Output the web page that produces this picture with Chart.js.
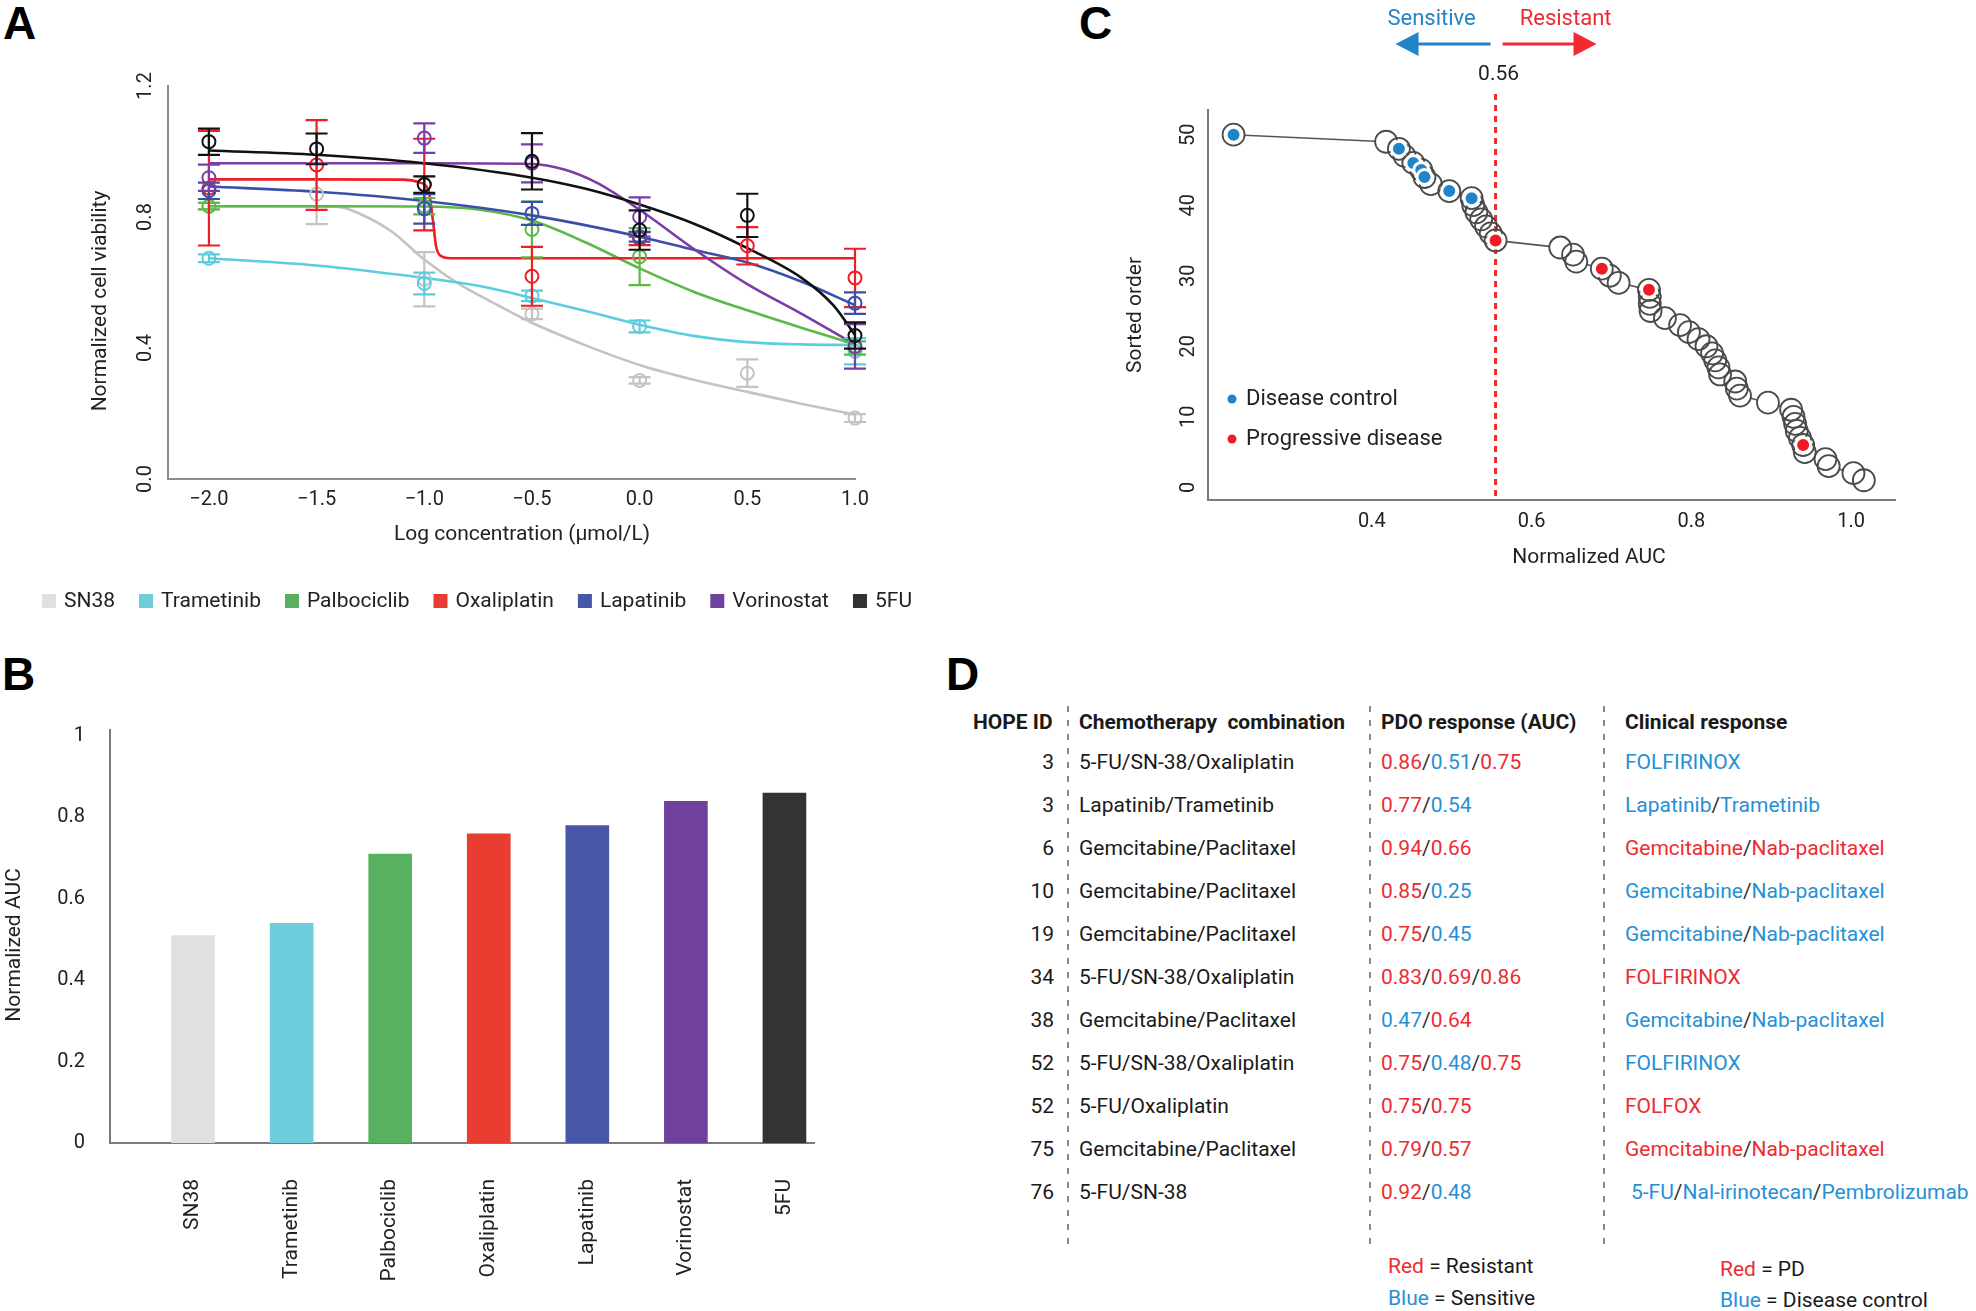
<!DOCTYPE html>
<html><head><meta charset="utf-8">
<script src="https://cdn.jsdelivr.net/npm/chart.js@4.4.1/dist/chart.umd.min.js"></script>
<style>
html,body{margin:0;padding:0;background:#fff;}
body{width:1976px;height:1311px;position:relative;overflow:hidden;font-family:Roboto,"Liberation Sans",Arial,sans-serif;color:#1a1a1a;}
canvas{position:absolute;}
.panel{position:absolute;font:bold 46px "Liberation Sans",Arial,sans-serif;line-height:46px;color:#000;}
.t{position:absolute;font-size:21px;line-height:26px;white-space:pre;color:#1a1a1a;}
.hd{font-weight:bold;}
.r{color:#ee2b32}.b{color:#2690d6}.sl{color:#333}
.dv{position:absolute;width:2px;background:repeating-linear-gradient(to bottom,#8a8a8a 0 6px,transparent 6px 14px);}
</style></head><body>
<div class="panel" style="left:3px;top:0">A</div>
<div class="panel" style="left:2px;top:651px">B</div>
<div class="panel" style="left:1079px;top:0">C</div>
<div class="panel" style="left:946px;top:651px">D</div>
<canvas id="cA" width="940" height="640" style="left:0;top:0"></canvas>
<canvas id="cB" width="940" height="661" style="left:0;top:650px"></canvas>
<canvas id="cC" width="876" height="600" style="left:1100px;top:0"></canvas>
<div id="tableD"></div>
<script>
// ================= Panel A data =================
const logConc = [-2, -1.5, -1, -0.5, 0, 0.5, 1];
const logConcTickLabels = ['\u22122.0','\u22121.5','\u22121.0','\u22120.5','0.0','0.5','1.0'];
const viabilityTicks = [0, 0.4, 0.8, 1.2];
const viabilityTickLabels = ['0.0','0.4','0.8','1.2'];
const drugs = ['SN38','Trametinib','Palbociclib','Oxaliplatin','Lapatinib','Vorinostat','5FU'];

// measured means and error (half-range) at each log concentration
const sn38Mean        = [0.833, 0.870, 0.610, 0.504, 0.301, 0.323, 0.186];
const sn38Err         = [0.010, 0.092, 0.083, 0.016, 0.010, 0.042, 0.012];
const trametinibMean  = [0.674, null, 0.597, 0.559, 0.466, null, 0.390];
const trametinibErr   = [0.012, 0, 0.033, 0.016, 0.018, 0, 0.040];
const palbociclibMean = [0.833, null, 0.833, 0.762, 0.679, null, 0.400];
const palbociclibErr  = [0.010, 0, 0.025, 0.085, 0.087, 0, 0.020];
const oxaliplatinMean = [0.888, 0.959, 0.899, 0.619, 0.734, 0.712, 0.614];
const oxaliplatinErr  = [0.175, 0.137, 0.140, 0.090, 0.020, 0.057, 0.089];
const lapatinibMean   = [0.880, null, 0.825, 0.811, 0.740, null, 0.537];
const lapatinibErr    = [0.025, 0, 0.045, 0.035, 0.015, 0, 0.033];
const vorinostatMean  = [0.920, null, 1.041, 0.964, 0.800, null, 0.405];
const vorinostatErr   = [0.040, 0, 0.045, 0.058, 0.060, 0, 0.068];
const fiveFUMean      = [1.030, 1.008, 0.899, 0.970, 0.760, 0.805, 0.438];
const fiveFUErr       = [0.040, 0.047, 0.025, 0.086, 0.060, 0.066, 0.040];

// fitted curves
const sn38CurveX = [-2, -1.7, -1.4, -1.3, -1.15, -1, -0.85, -0.7, -0.5, -0.25, 0, 0.25, 0.5, 0.75, 1];
const sn38CurveY = [0.833, 0.833, 0.831, 0.81, 0.755, 0.67, 0.60, 0.545, 0.477, 0.408, 0.348, 0.303, 0.266, 0.23, 0.197];
const trametinibCurveX = [-2, -1.5, -1, -0.75, -0.5, -0.25, 0, 0.25, 0.5, 0.75, 1];
const trametinibCurveY = [0.674, 0.652, 0.614, 0.59, 0.553, 0.513, 0.471, 0.437, 0.418, 0.411, 0.409];
const palbociclibCurveX = [-2, -1.5, -1, -0.75, -0.5, -0.25, 0, 0.25, 0.5, 0.75, 1];
const palbociclibCurveY = [0.833, 0.833, 0.832, 0.823, 0.789, 0.722, 0.643, 0.572, 0.515, 0.462, 0.411];
const oxaliplatinCurveX = [-2, -1.5, -1.1, -1.02, -0.98, -0.96, -0.945, -0.92, -0.88, 0, 1];
const oxaliplatinCurveY = [0.915, 0.915, 0.914, 0.905, 0.88, 0.79, 0.71, 0.68, 0.674, 0.674, 0.674];
const lapatinibCurveX = [-2, -1.5, -1, -0.5, 0, 0.25, 0.5, 0.75, 1];
const lapatinibCurveY = [0.893, 0.877, 0.849, 0.805, 0.74, 0.70, 0.661, 0.603, 0.531];
const vorinostatCurveX = [-2, -1.5, -1, -0.5, -0.35, -0.2, 0, 0.25, 0.5, 0.75, 1];
const vorinostatCurveY = [0.964, 0.964, 0.964, 0.962, 0.945, 0.905, 0.822, 0.703, 0.595, 0.505, 0.411];
const fiveFUCurveX = [-2, -1.5, -1, -0.5, -0.25, 0, 0.25, 0.5, 0.75, 0.9, 1];
const fiveFUCurveY = [1.003, 0.99, 0.964, 0.92, 0.886, 0.838, 0.78, 0.705, 0.615, 0.53, 0.44];

// ================= Panel B data =================
const aucValues = [0.51, 0.54, 0.71, 0.76, 0.78, 0.84, 0.86];
const aucTicks = [0, 0.2, 0.4, 0.6, 0.8, 1];
const aucTickLabels = ['0', '0.2', '0.4', '0.6', '0.8', '1'];

// ================= Panel C data =================
const sortedOrder = [50,49,48,47,46,45,44,43,42,41,40,39,38,37,36,35,34,33,32,31,30,29,28,27,26,25,24,23,22,21,20,19,18,17,16,15,14,13,12,11,10,9,8,7,6,5,4,3,2,1];
const normalizedAUC = [0.227,0.418,0.434,0.441,0.452,0.462,0.466,0.474,0.497,0.525,
                       0.527,0.531,0.537,0.543,0.549,0.555,0.636,0.652,0.656,0.688,
                       0.698,0.709,0.747,0.748,0.748,0.749,0.767,0.786,0.797,0.809,
                       0.819,0.826,0.830,0.834,0.836,0.855,0.857,0.861,0.896,0.925,
                       0.928,0.930,0.932,0.936,0.940,0.942,0.968,0.972,1.003,1.016];
const clinicalOutcomeC = ['DC','','DC','','DC','DC','DC','','DC','DC',
                          '','','','','','PD','','','','PD',
                          '','','PD','','','','','','','',
                          '','','','','','','','','','',
                          '','','','','PD','','','','',''];
const aucThreshold = 0.555;
const aucThresholdLabel = '0.56';
const aucAxisTicks = [0.4, 0.6, 0.8, 1.0];
const aucAxisTickLabels = ['0.4', '0.6', '0.8', '1.0'];
const orderTicks = [0, 10, 20, 30, 40, 50];
const orderTickLabels = ['0', '10', '20', '30', '40', '50'];

// ================= Panel D data =================
const hopeIds = ['3','3','6','10','19','34','38','52','52','75','76'];
const chemoCombos = ['5-FU/SN-38/Oxaliplatin','Lapatinib/Trametinib','Gemcitabine/Paclitaxel','Gemcitabine/Paclitaxel','Gemcitabine/Paclitaxel','5-FU/SN-38/Oxaliplatin','Gemcitabine/Paclitaxel','5-FU/SN-38/Oxaliplatin','5-FU/Oxaliplatin','Gemcitabine/Paclitaxel','5-FU/SN-38'];
const pdoAUCs = [[0.86,0.51,0.75],[0.77,0.54],[0.94,0.66],[0.85,0.25],[0.75,0.45],[0.83,0.69,0.86],[0.47,0.64],[0.75,0.48,0.75],[0.75,0.75],[0.79,0.57],[0.92,0.48]];
const clinicalRegimens = ['FOLFIRINOX','Lapatinib/Trametinib','Gemcitabine/Nab-paclitaxel','Gemcitabine/Nab-paclitaxel','Gemcitabine/Nab-paclitaxel','FOLFIRINOX','Gemcitabine/Nab-paclitaxel','FOLFIRINOX','FOLFOX','Gemcitabine/Nab-paclitaxel','5-FU/Nal-irinotecan/Pembrolizumab'];
const clinicalOutcomeD = ['DC','DC','PD','DC','DC','PD','DC','DC','PD','PD','DC'];

// ================= styles =================
const FONT = 'Roboto, "Liberation Sans", Arial, sans-serif';
const curveColors = ['#c3c3c3','#5ccde0','#5cb848','#ee1d26','#3a4faa','#7a3ca5','#111111'];
const barColors = ['#e0e0e0','#6ecddb','#57b15e','#e83d30','#4756a6','#6f419a','#333333'];
const RED = '#ee2b32', BLUE = '#1f84c8';

function txt(ctx, s, x, y, font, color, rot, align) {
  ctx.save();
  ctx.font = font; ctx.fillStyle = color || '#222';
  ctx.textAlign = align || 'center'; ctx.textBaseline = 'middle';
  ctx.translate(x, y); if (rot) ctx.rotate(rot);
  ctx.fillText(s, 0, 0); ctx.restore();
}

// ================= Chart A =================
const meansA = [sn38Mean, trametinibMean, palbociclibMean, oxaliplatinMean, lapatinibMean, vorinostatMean, fiveFUMean];
const errsA = [sn38Err, trametinibErr, palbociclibErr, oxaliplatinErr, lapatinibErr, vorinostatErr, fiveFUErr];
const curveXA = [sn38CurveX, trametinibCurveX, palbociclibCurveX, oxaliplatinCurveX, lapatinibCurveX, vorinostatCurveX, fiveFUCurveX];
const curveYA = [sn38CurveY, trametinibCurveY, palbociclibCurveY, oxaliplatinCurveY, lapatinibCurveY, vorinostatCurveY, fiveFUCurveY];

const dsA = [];
drugs.forEach((d, k) => {
  dsA.push({
    label: d + ' fit', type: 'line',
    data: curveXA[k].map((x, i) => ({x: x, y: curveYA[k][i]})),
    borderColor: curveColors[k], borderWidth: 2.6, pointRadius: 0,
    cubicInterpolationMode: 'monotone', fill: false, clip: false, order: 20 + (6 - k)
  });
  dsA.push({
    label: d, type: 'line', showLine: false,
    data: logConc.map((x, i) => ({x: x, y: meansA[k][i]})),
    errors: errsA[k],
    borderColor: curveColors[k], pointBorderColor: curveColors[k],
    pointBackgroundColor: 'rgba(255,255,255,0)', pointRadius: 6.5, pointBorderWidth: 2,
    clip: false, order: 6 - k
  });
});

const aPlugin = {
  id: 'aExtras',
  afterDatasetDraw(chart, args) {
    const ds = chart.data.datasets[args.index];
    if (!ds.errors) return;
    const xs = chart.scales.x, ys = chart.scales.y, ctx = chart.ctx;
    ctx.save(); ctx.strokeStyle = ds.borderColor; ctx.lineWidth = 2.2;
    ds.data.forEach((p, j) => {
      if (p.y == null) return;
      const e = ds.errors[j];
      const x = xs.getPixelForValue(p.x);
      const yt = ys.getPixelForValue(p.y + e), yb = ys.getPixelForValue(p.y - e);
      ctx.beginPath();
      ctx.moveTo(x, yt); ctx.lineTo(x, yb);
      ctx.moveTo(x - 11, yt); ctx.lineTo(x + 11, yt);
      ctx.moveTo(x - 11, yb); ctx.lineTo(x + 11, yb);
      ctx.stroke();
    });
    ctx.restore();
  },
  afterDraw(chart) {
    const ctx = chart.ctx, ys = chart.scales.y;
    viabilityTicks.forEach((v, i) => txt(ctx, viabilityTickLabels[i], 146, ys.getPixelForValue(v), '20px ' + FONT, '#222', -Math.PI / 2));
    txt(ctx, 'Normalized cell viability', 101, 301, '21px ' + FONT, '#222', -Math.PI / 2);
    txt(ctx, 'Log concentration (\u00b5mol/L)', 522, 535, '21px ' + FONT, '#222');
    // legend
    ctx.save();
    ctx.font = '21px ' + FONT;
    const w = drugs.map(d => ctx.measureText(d).width);
    const gap = 24;
    const total = w.reduce((a, b) => a + b, 0) + drugs.length * 22 + (drugs.length - 1) * gap;
    let x = 477 - total / 2; const y = 601;
    drugs.forEach((d, i) => {
      ctx.fillStyle = barColors[i]; ctx.fillRect(x, y - 7, 14, 14);
      x += 22;
      ctx.fillStyle = '#222'; ctx.textAlign = 'left'; ctx.textBaseline = 'middle';
      ctx.fillText(d, x, y + 1);
      x += w[i] + gap;
    });
    ctx.restore();
  }
};

new Chart(document.getElementById('cA'), {
  type: 'line',
  data: {datasets: dsA},
  options: {
    responsive: false, animation: false, devicePixelRatio: 1,
    layout: {padding: {left: 0, right: 85, top: 86, bottom: 101}},
    plugins: {legend: {display: false}, tooltip: {enabled: false}},
    scales: {
      x: {type: 'linear', min: -2.19, max: 1.0,
          grid: {display: false, drawTicks: false}, border: {color: '#8c8c8c', width: 2},
          afterBuildTicks: s => { s.ticks = logConc.map(v => ({value: v})); },
          afterFit: s => { s.height = 60; },
          ticks: {padding: 9, color: '#222', font: {family: FONT, size: 20}, maxRotation: 0, autoSkip: false,
                  callback: v => logConcTickLabels[logConc.indexOf(v)]}},
      y: {type: 'linear', min: 0, max: 1.2,
          grid: {display: false, drawTicks: false}, border: {color: '#8c8c8c', width: 2},
          ticks: {display: false}, afterFit: s => { s.width = 168; }}
    }
  },
  plugins: [aPlugin]
});

// ================= Chart B =================
const bPlugin = {
  id: 'bExtras',
  afterDraw(chart) {
    txt(chart.ctx, 'Normalized AUC', 15, 295, '21px ' + FONT, '#222', -Math.PI / 2);
  }
};
new Chart(document.getElementById('cB'), {
  type: 'bar',
  data: {datasets: [{
    label: 'Normalized AUC',
    data: drugs.map((d, i) => ({x: i, y: aucValues[i]})),
    backgroundColor: barColors, borderWidth: 0, barThickness: 43
  }]},
  options: {
    responsive: false, animation: false, devicePixelRatio: 1,
    layout: {padding: {left: 0, right: 126, top: 80, bottom: 0}},
    plugins: {legend: {display: false}, tooltip: {enabled: false}},
    scales: {
      x: {type: 'linear', min: -0.843, max: 6.30, offset: false,
          grid: {display: false, drawTicks: false, offset: false}, border: {color: '#7a7a7a', width: 2},
          afterBuildTicks: s => { s.ticks = drugs.map((d, i) => ({value: i})); },
          afterFit: s => { s.height = 168; },
          ticks: {autoSkip: false, minRotation: 90, maxRotation: 90, padding: 36, color: '#222',
                  font: {family: FONT, size: 21}, callback: v => drugs[v]}},
      y: {type: 'linear', min: 0, max: 1.015,
          grid: {display: false, drawTicks: false}, border: {color: '#7a7a7a', width: 2},
          afterBuildTicks: s => { s.ticks = aucTicks.map(v => ({value: v})); },
          afterFit: s => { s.width = 110; },
          ticks: {padding: 25, color: '#222', font: {family: FONT, size: 20},
                  callback: v => aucTickLabels[aucTicks.indexOf(v)]}}
    }
  },
  plugins: [bPlugin]
});

// ================= Chart C =================
const ptsC = normalizedAUC.map((x, i) => ({x: x, y: sortedOrder[i]}));
const cPlugin = {
  id: 'cExtras',
  beforeDatasetsDraw(chart) {
    const ctx = chart.ctx, xs = chart.scales.x;
    const tx = xs.getPixelForValue(aucThreshold);
    ctx.save();
    ctx.strokeStyle = '#ee2a2a'; ctx.lineWidth = 3; ctx.setLineDash([6, 5]);
    ctx.beginPath(); ctx.moveTo(tx, 94); ctx.lineTo(tx, chart.chartArea.bottom); ctx.stroke();
    ctx.restore();
    // connecting line with gaps around circles
    const meta = chart.getDatasetMeta(2);
    const r = 11;
    ctx.save(); ctx.strokeStyle = '#555'; ctx.lineWidth = 1.6;
    for (let i = 1; i < meta.data.length; i++) {
      const a = meta.data[i - 1], b = meta.data[i];
      const dx = b.x - a.x, dy = b.y - a.y, L = Math.hypot(dx, dy);
      if (L <= 2 * r) continue;
      const ux = dx / L, uy = dy / L;
      ctx.beginPath(); ctx.moveTo(a.x + ux * r, a.y + uy * r); ctx.lineTo(b.x - ux * r, b.y - uy * r); ctx.stroke();
    }
    ctx.restore();
  },
  afterDraw(chart) {
    const ctx = chart.ctx, xs = chart.scales.x, ys = chart.scales.y;
    const tx = xs.getPixelForValue(aucThreshold);
    orderTicks.forEach((v, i) => txt(ctx, orderTickLabels[i], 89, ys.getPixelForValue(v), '20px ' + FONT, '#222', -Math.PI / 2));
    txt(ctx, 'Sorted order', 36, 315, '21px ' + FONT, '#222', -Math.PI / 2);
    txt(ctx, 'Normalized AUC', 489, 558, '21px ' + FONT, '#222');
    txt(ctx, aucThresholdLabel, tx + 3, 75, '21px ' + FONT, '#222');
    txt(ctx, 'Sensitive', tx - 64, 19, '22px ' + FONT, BLUE);
    txt(ctx, 'Resistant', tx + 70, 19, '22px ' + FONT, RED);
    const ay = 44;
    function arrow(x0, x1, col) {
      const dir = Math.sign(x1 - x0);
      ctx.save(); ctx.strokeStyle = col; ctx.fillStyle = col; ctx.lineWidth = 3;
      ctx.beginPath(); ctx.moveTo(x0, ay); ctx.lineTo(x1 - dir * 20, ay); ctx.stroke();
      ctx.beginPath(); ctx.moveTo(x1, ay); ctx.lineTo(x1 - dir * 23, ay - 12); ctx.lineTo(x1 - dir * 23, ay + 12); ctx.closePath(); ctx.fill();
      ctx.restore();
    }
    arrow(tx - 5, tx - 100, BLUE);
    arrow(tx + 7, tx + 101, RED);
    ctx.save();
    ctx.fillStyle = BLUE; ctx.beginPath(); ctx.arc(132, 399, 4.5, 0, Math.PI * 2); ctx.fill();
    ctx.fillStyle = '#ee1c24'; ctx.beginPath(); ctx.arc(132, 439, 4.5, 0, Math.PI * 2); ctx.fill();
    ctx.restore();
    txt(ctx, 'Disease control', 146, 399, '22px ' + FONT, '#222', 0, 'left');
    txt(ctx, 'Progressive disease', 146, 439, '22px ' + FONT, '#222', 0, 'left');
  }
};
new Chart(document.getElementById('cC'), {
  type: 'scatter',
  data: {datasets: [
    {label: 'Disease control', data: ptsC.filter((p, i) => clinicalOutcomeC[i] === 'DC'),
     pointRadius: 7.5, pointBorderWidth: 3, pointBorderColor: '#fff', pointBackgroundColor: BLUE, clip: false, order: 0},
    {label: 'Progressive disease', data: ptsC.filter((p, i) => clinicalOutcomeC[i] === 'PD'),
     pointRadius: 7.5, pointBorderWidth: 3, pointBorderColor: '#fff', pointBackgroundColor: '#ee1c24', clip: false, order: 1},
    {label: 'All PDOs', data: ptsC, pointRadius: 11, pointBorderWidth: 1.8,
     pointBorderColor: '#4a4a4a', pointBackgroundColor: 'rgba(255,255,255,0)', clip: false, order: 2}
  ]},
  options: {
    responsive: false, animation: false, devicePixelRatio: 1,
    layout: {padding: {left: 0, right: 81, top: 110, bottom: 40}},
    plugins: {legend: {display: false}, tooltip: {enabled: false}},
    scales: {
      x: {type: 'linear', min: 0.195, max: 1.055,
          grid: {display: false, drawTicks: false}, border: {color: '#7a7a7a', width: 2},
          afterBuildTicks: s => { s.ticks = aucAxisTicks.map(v => ({value: v})); },
          afterFit: s => { s.height = 60; },
          ticks: {padding: 10, color: '#222', font: {family: FONT, size: 20}, maxRotation: 0, autoSkip: false,
                  callback: v => aucAxisTickLabels[aucAxisTicks.indexOf(v)]}},
      y: {type: 'linear', min: -1.8, max: 53.5,
          grid: {display: false, drawTicks: false}, border: {color: '#7a7a7a', width: 2},
          ticks: {display: false}, afterFit: s => { s.width = 108; }}
    }
  },
  plugins: [cPlugin]
});

// ================= Table D =================
(function () {
  const root = document.getElementById('tableD');
  function add(html, left, cy, extra) {
    const d = document.createElement('div');
    d.className = 't' + (extra ? ' ' + extra : '');
    d.style.left = left + 'px'; d.style.top = (cy - 13) + 'px';
    d.innerHTML = html; root.appendChild(d); return d;
  }
  const colId = 990, colChemo = 1079, colPdo = 1381, colClin = 1625;
  const headY = 722, row0 = 762, step = 43.0;
  add('HOPE ID', 973, headY, 'hd');
  add('Chemotherapy  combination', colChemo, headY, 'hd');
  add('PDO response (AUC)', colPdo, headY, 'hd');
  add('Clinical response', colClin, headY, 'hd');
  const slash = '<span class="sl">/</span>';
  hopeIds.forEach((id, i) => {
    const cy = row0 + i * step;
    const d = add(id, colId, cy); d.style.width = '64px'; d.style.textAlign = 'right';
    add(chemoCombos[i], colChemo, cy);
    add(pdoAUCs[i].map(v => '<span class="' + (v > 0.56 ? 'r' : 'b') + '">' + v.toFixed(2) + '</span>').join(slash), colPdo, cy);
    const cls = clinicalOutcomeD[i] === 'PD' ? 'r' : 'b';
    add(clinicalRegimens[i].split('/').map(s => '<span class="' + cls + '">' + s + '</span>').join(slash),
        colClin + (clinicalRegimens[i].length > 28 ? 6 : 0), cy);
  });
  [1068, 1370, 1604].forEach(x => {
    const d = document.createElement('div'); d.className = 'dv';
    d.style.left = (x - 1) + 'px'; d.style.top = '706px'; d.style.height = '538px';
    root.appendChild(d);
  });
  add('<span class="r">Red</span> = Resistant', 1388, 1266);
  add('<span class="b">Blue</span> = Sensitive', 1388, 1298);
  add('<span class="r">Red</span> = PD', 1720, 1269);
  add('<span class="b">Blue</span> = Disease control', 1720, 1300);
})();
</script>
</body></html>
